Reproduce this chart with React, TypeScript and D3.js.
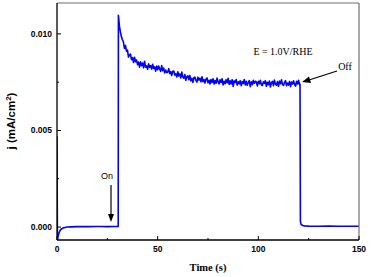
import React from "react";
import * as d3 from "d3";

const W = 373;
const H = 277;
const margin = { left: 57, right: 14, top: 3, bottom: 37 };

// Dark period (light off), seconds and mA/cm^2
const darkTimes = [0, 0.2, 0.5, 1, 1.5, 2, 3, 4, 5, 7, 10, 13, 16, 19, 22, 25, 28, 30.4];
const darkValues = [0.0047, -0.0008, -0.0005, -0.0003, -0.00018, -0.00011, -0.00005, -0.00002, 0, 0.00001, 0.00002, 0.00003, 0.00002, 0.00003, 0.00003, 0.00002, 0.00003, 0.00003];

// Illuminated period: rise and fast decay
const peakTimes = [30.5, 31, 31.5, 32, 32.5];
const peakValues = [0.01096, 0.0104, 0.0101, 0.00985, 0.0097];

// Illuminated period: noisy plateau, every 0.5 s from 33 s to 120.5 s
const plateauStart = 33;
const plateauStep = 0.5;
const plateauValues = [
  0.00958, 0.00925, 0.0094, 0.00911, 0.00916, 0.0088, 0.00891, 0.00895, 0.00867, 0.00877, 0.00852, 0.00879, 0.00856, 0.00865, 0.00841, 0.00854,
  0.00828, 0.00856, 0.00836, 0.00849, 0.00825, 0.00858, 0.00828, 0.00834, 0.00817, 0.00845, 0.00827, 0.00836, 0.00818, 0.00843, 0.00821, 0.00829,
  0.00807, 0.00834, 0.00814, 0.00834, 0.00819, 0.00806, 0.00836, 0.00809, 0.00823, 0.00798, 0.00813, 0.008,
  0.00802, 0.0082, 0.00794, 0.00805, 0.00785, 0.00807, 0.00808, 0.00787, 0.00793, 0.00777, 0.00804, 0.00782, 0.00793, 0.00772, 0.00802, 0.00777,
  0.0077, 0.0079, 0.0076, 0.00779, 0.00783, 0.00763, 0.00785, 0.00757, 0.0077, 0.00749, 0.00773, 0.00776, 0.0076, 0.0075, 0.00776, 0.00761,
  0.00771, 0.00752, 0.00778, 0.00753, 0.00764, 0.00746, 0.00765, 0.00772, 0.00747, 0.0076, 0.00741, 0.00764,
  0.00748, 0.00768, 0.00741, 0.00759, 0.00744, 0.00771, 0.00752, 0.00741, 0.00763, 0.00748, 0.00768, 0.00736, 0.00755, 0.00742, 0.00763, 0.00747,
  0.0077, 0.00739, 0.00757, 0.00741, 0.00763, 0.00728, 0.00757, 0.00748, 0.00764, 0.00735, 0.00752, 0.00741, 0.00758, 0.00732, 0.00753, 0.00743,
  0.00764, 0.00736, 0.00755, 0.00734, 0.00748, 0.00758, 0.00727, 0.00752, 0.00737, 0.0076, 0.00744, 0.00755,
  0.00751, 0.00731, 0.00755, 0.00742, 0.0076, 0.00736, 0.00733, 0.00752, 0.00744, 0.00758, 0.00729, 0.00749, 0.00737, 0.00756, 0.00725, 0.00748,
  0.00754, 0.00732, 0.00761, 0.0074, 0.00735, 0.00753, 0.00729, 0.00756, 0.00742, 0.00762, 0.00737, 0.00733, 0.00749, 0.00758, 0.00732, 0.00746,
  0.00735, 0.00754, 0.00727, 0.00751, 0.0074, 0.00757, 0.00738, 0.0073, 0.00755, 0.00741, 0.0076, 0.00736,
];

// After light off
const offTimes = [120.7, 120.9, 121.2, 122, 123, 125, 130, 135, 140, 145, 150];
const offValues = [0.0074, 0.0003, 0.00014, 0.00008, 0.00006, 0.00005, 0.00004, 0.00005, 0.00004, 0.00004, 0.00004];

const xTicks = [0, 50, 100, 150];
const xMinor = [25, 75, 125];
const yTicks = [0, 0.005, 0.01];
const yTickLabels = ["0.000", "0.005", "0.010"];
const yMinor = [0.0025, 0.0075];

export default function App() {
  const x = d3.scaleLinear().domain([0, 150]).range([margin.left, W - margin.right]);
  const y = d3.scaleLinear().domain([-0.00067, 0.0116]).range([H - margin.bottom, margin.top]);

  const plateauTimes = plateauValues.map((_, i) => plateauStart + i * plateauStep);
  const times = [...darkTimes, ...peakTimes, ...plateauTimes, ...offTimes];
  const vals = [...darkValues, ...peakValues, ...plateauValues, ...offValues];
  const pts: [number, number][] = times.map((t, i) => [t, vals[i]]);
  const line = d3.line<[number, number]>().x((d) => x(d[0])).y((d) => y(d[1]));

  const x0 = margin.left;
  const x1 = W - margin.right;
  const y0 = H - margin.bottom;
  const y1 = margin.top;
  const tickFont = "Arial, 'Liberation Sans', sans-serif";
  const serif = "'Times New Roman', 'Liberation Serif', serif";

  return (
    <svg width={W} height={H} style={{ position: "absolute", left: 0, top: 0, background: "#fff" }}>
      <defs>
        <clipPath id="plot">
          <rect x={x0} y={y1} width={x1 - x0} height={y0 - y1} />
        </clipPath>
      </defs>
      <rect x={0} y={0} width={W} height={H} fill="#fff" />
      <path d={line(pts) || ""} fill="none" stroke="#0000ff" strokeWidth={1.6} clipPath="url(#plot)" strokeLinejoin="round" />
      {/* frame */}
      <line x1={x0} x2={x1} y1={y1} y2={y1} stroke="#707070" strokeWidth={1.2} />
      <line x1={x1} x2={x1} y1={y1} y2={y0} stroke="#707070" strokeWidth={1.2} />
      <line x1={x0} x2={x0} y1={y1} y2={y0} stroke="#000" strokeWidth={1.3} />
      <line x1={x0} x2={x1} y1={y0} y2={y0} stroke="#000" strokeWidth={1.3} />
      {xTicks.map((t) => (
        <g key={"xt" + t}>
          <line x1={x(t)} x2={x(t)} y1={y0} y2={y0 - 4} stroke="#000" strokeWidth={1} />
          <text x={x(t)} y={y0 + 12} textAnchor="middle" fontFamily={tickFont} fontWeight="bold" fontSize={8.5}>{t}</text>
        </g>
      ))}
      {xMinor.map((t) => (
        <line key={"xm" + t} x1={x(t)} x2={x(t)} y1={y0} y2={y0 - 2} stroke="#000" strokeWidth={1} />
      ))}
      {yTicks.map((t, i) => (
        <g key={"yt" + t}>
          <line x1={x0} x2={x0 + 4} y1={y(t)} y2={y(t)} stroke="#000" strokeWidth={1} />
          <text x={x0 - 5} y={y(t) + 3} textAnchor="end" fontFamily={tickFont} fontWeight="bold" fontSize={8.5}>{yTickLabels[i]}</text>
        </g>
      ))}
      {yMinor.map((t) => (
        <line key={"ym" + t} x1={x0} x2={x0 + 2} y1={y(t)} y2={y(t)} stroke="#000" strokeWidth={1} />
      ))}
      <text x={(x0 + x1) / 2 + 0} y={271} textAnchor="middle" fontFamily={serif} fontWeight="bold" fontSize={10.5}>Time (s)</text>
      <text transform={`translate(15, 121) rotate(-90)`} textAnchor="middle" fontFamily={tickFont} fontWeight="bold" fontSize={11.5}>
        j (mA/cm<tspan fontSize={8} dy={-4.5}>2</tspan><tspan dy={4.5}>)</tspan>
      </text>
      <text x={283} y={55} textAnchor="middle" fontFamily={serif} fontSize={10}>E = 1.0V/RHE</text>
      <text x={345} y={70} textAnchor="middle" fontFamily={serif} fontSize={10}>Off</text>
      <line x1={337} y1={71} x2={309} y2={80} stroke="#000" strokeWidth={1.2} />
      <polygon points="302,82 309,76.5 311,83" fill="#000" />
      <text x={107} y={179} textAnchor="middle" fontFamily={tickFont} fontSize={9}>On</text>
      <line x1={111} x2={111} y1={185} y2={215} stroke="#000" strokeWidth={1.2} />
      <polygon points="108,214 114,214 111,222" fill="#000" />
    </svg>
  );
}
